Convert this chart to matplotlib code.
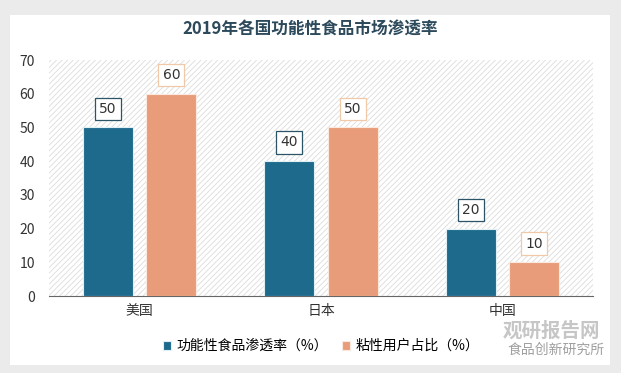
import numpy as np
import matplotlib.pyplot as plt
from matplotlib.patches import Rectangle

plt.rcParams['font.family'] = ['Noto Sans CJK SC', 'DejaVu Sans']
plt.rcParams['hatch.linewidth'] = 0.6

countries = ["美国", "日本", "中国"]
penetration = [50, 40, 20]
sticky_users = [60, 50, 10]
series_names = ["功能性食品渗透率（%）", "粘性用户占比（%）"]
title = "2019年各国功能性食品市场渗透率"

blue = "#1e6a8d"
orange = "#e99c7a"

fig = plt.figure(figsize=(6.21, 3.73), dpi=100)
fig.patch.set_facecolor("#ebebeb")
# white card
fig.add_artist(Rectangle((10 / 621, 8 / 373), 600 / 621, 350 / 373,
                         transform=fig.transFigure, facecolor="white",
                         edgecolor="none", zorder=0))

ax = fig.add_axes([49 / 621, 77 / 373, 544 / 621, 236 / 373])
ax.set_facecolor("white")
ax.add_patch(Rectangle((0, 0), 1, 1, transform=ax.transAxes, facecolor="white",
                       edgecolor="#dcdcdc", hatch="//////", linewidth=0, zorder=0))

x = np.arange(len(countries))
w = 0.275
off = 0.175
b1 = ax.bar(x - off, penetration, w, color=blue, edgecolor="#dff0f5", linewidth=0.8,
            label=series_names[0], zorder=3)
b2 = ax.bar(x + off, sticky_users, w, color=orange, edgecolor="#fbe9df", linewidth=0.8,
            label=series_names[1], zorder=3)

for xs, vals, ec in [(x - off, penetration, "#2b5466"), (x + off, sticky_users, "#f0c9a8")]:
    for xi, v in zip(xs, vals):
        ax.annotate(str(v), (xi, v), xytext=(0, 13.5), textcoords="offset points",
                    ha="center", va="center", fontsize=10, color="#333333",
                    family="DejaVu Sans", zorder=5,
                    bbox=dict(boxstyle="square,pad=0.3", facecolor="white",
                              edgecolor=ec, linewidth=0.9))

ax.set_xlim(-0.5, 2.5)
ax.set_ylim(0, 70)
ax.set_yticks(range(0, 71, 10))
ax.set_xticks(x)
ax.set_xticklabels(countries, fontsize=10, color="#222222")
ax.tick_params(axis="both", length=0, colors="#333333", labelsize=10)
ax.tick_params(axis="x", pad=6)
ax.tick_params(axis="y", pad=10)
for s in ["top", "right", "left"]:
    ax.spines[s].set_visible(False)
ax.spines["bottom"].set_color("#666666")
ax.spines["bottom"].set_linewidth(0.8)

fig.text(0.5, 1 - 30 / 373, title, ha="center", va="center", fontsize=12,
         fontweight="bold", color="#2d4a5c")

fig.legend(handles=[b1, b2], loc="center left", bbox_to_anchor=(150 / 621, 1 - 346 / 373),
           ncol=2, frameon=False, fontsize=10, handlelength=0.6, handleheight=0.6,
           handletextpad=0.4, columnspacing=1.0)

# watermarks
fig.text(600 / 621, 1 - 331 / 373, "观研报告网", ha="right", va="center", fontsize=14,
         fontweight="bold", color="#b8b8b8", alpha=0.8)
fig.text(605 / 621, 1 - 350 / 373, "食品创新研究所", ha="right", va="center", fontsize=10,
         color="#888888", alpha=0.8)

fig.savefig("out.png", dpi=100, facecolor=fig.get_facecolor())
